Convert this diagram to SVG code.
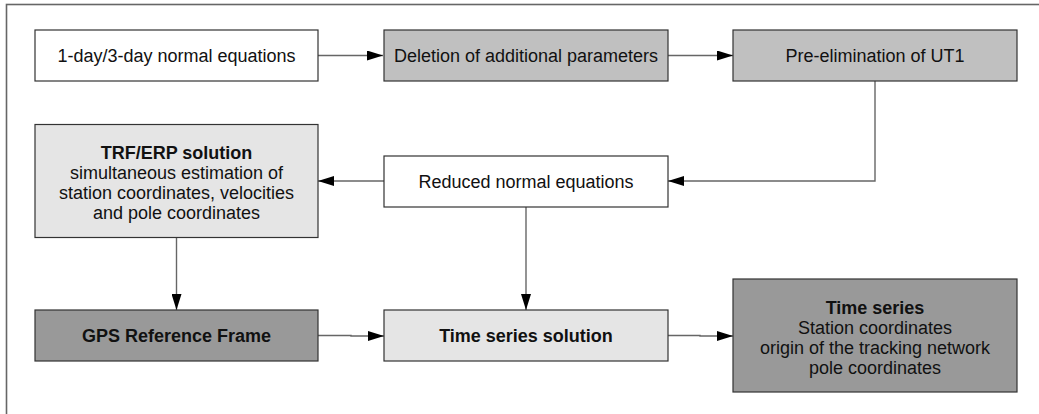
<svg xmlns="http://www.w3.org/2000/svg" width="1039" height="414" viewBox="0 0 1039 414">
<defs>
<marker id="arr" markerWidth="16" markerHeight="10" refX="16" refY="5" orient="auto" markerUnits="userSpaceOnUse">
<path d="M0,0 L16,5 L0,10 Z" fill="#000"/>
</marker>
<style>
.box{stroke:#333;stroke-width:1.2}
.w{fill:#fff}.g1{fill:#c0c0c0}.g2{fill:#e5e5e5}.g3{fill:#999}
text{font-family:"Liberation Sans",Arial,sans-serif;font-size:18px;fill:#111;text-anchor:middle}
.b{font-weight:bold}
.c{fill:none;stroke:#666;stroke-width:1.4}
</style>
</defs>
<rect x="6.5" y="4.5" width="1100" height="500" fill="none" stroke="#666" stroke-width="1.6"/>
<g id="connectors">
<path class="c" d="M318,55.5 H383" marker-end="url(#arr)"/>
<path class="c" d="M668,55.5 H733" marker-end="url(#arr)"/>
<path class="c" d="M875,81 V181 H668" marker-end="url(#arr)"/>
<path class="c" d="M384,181 H318" marker-end="url(#arr)"/>
<path class="c" d="M176.5,238 V310" marker-end="url(#arr)"/>
<path class="c" d="M526,207 V310" marker-end="url(#arr)"/>
<path class="c" d="M318,335.5 H351 V336 H384" marker-end="url(#arr)"/>
<path class="c" d="M668,335.5 H700 V336 H733" marker-end="url(#arr)"/>
</g>
<g id="n1"><rect class="box w" x="35" y="30" width="283" height="51"/><text x="176.5" y="62">1-day/3-day normal equations</text></g>
<g id="n2"><rect class="box g1" x="384" y="30" width="284" height="51"/><text x="526" y="62">Deletion of additional parameters</text></g>
<g id="n3"><rect class="box g1" x="733" y="30" width="284" height="51"/><text x="875" y="62">Pre-elimination of UT1</text></g>
<g id="n4"><rect class="box g2" x="35" y="124.5" width="283" height="113"/>
<text x="176.5" y="158.5" class="b">TRF/ERP solution</text>
<text x="176.5" y="178.5">simultaneous estimation of</text>
<text x="176.5" y="199">station coordinates, velocities</text>
<text x="176.5" y="219">and pole coordinates</text></g>
<g id="n5"><rect class="box w" x="384" y="156" width="284" height="51"/><text x="526" y="187.5">Reduced normal equations</text></g>
<g id="n6"><rect class="box g3" x="35" y="310" width="283" height="51"/><text x="176.5" y="342" class="b">GPS Reference Frame</text></g>
<g id="n7"><rect class="box g2" x="384" y="310" width="284" height="51"/><text x="526" y="342" class="b">Time series solution</text></g>
<g id="n8"><rect class="box g3" x="733" y="279" width="284" height="113"/>
<text x="875" y="314" class="b">Time series</text>
<text x="875" y="334">Station coordinates</text>
<text x="875" y="353.5">origin of the tracking network</text>
<text x="875" y="373.5">pole coordinates</text></g>
</svg>
